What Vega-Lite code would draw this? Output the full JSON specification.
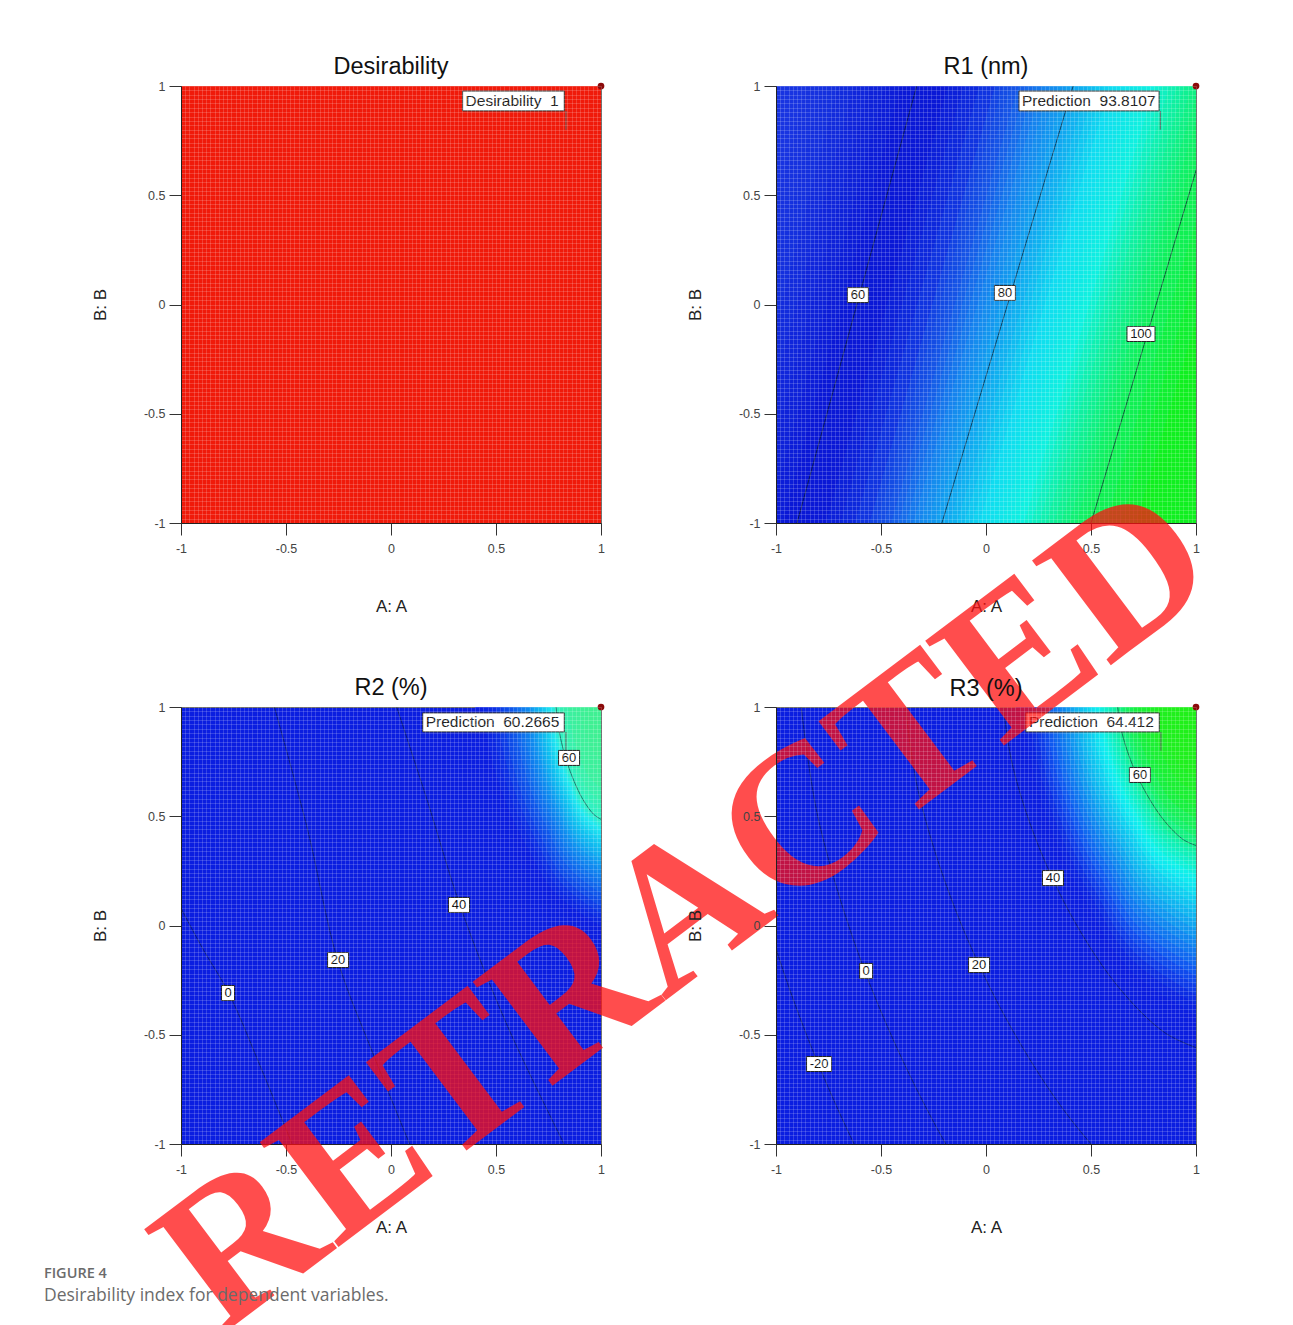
{
"$schema": "https://vega.github.io/schema/vega-lite/v6.json",
"background": "white",
"padding": {"left": 43, "top": 54, "right": 5, "bottom": 5},
"bounds": "flush",
"columns": 2,
"spacing": {"row": 184, "column": 175},
"resolve": {"scale": {"x": "independent", "y": "independent", "color": "independent"}},
"title": {"text": "FIGURE 4", "subtitle": "Desirability index for dependent variables.", "orient": "bottom", "anchor": "start", "frame": "bounds", "offset": -101, "dx": -47, "font": "Open Sans", "fontSize": 14.5, "fontWeight": 600, "color": "#6b6b6b", "subtitleFont": "Open Sans", "subtitleFontSize": 17.5, "subtitleColor": "#6b6b6b", "subtitlePadding": 5},
"config": {
 "font": "Liberation Sans",
 "view": {"stroke": "#555555", "strokeWidth": 1},
 "axis": {"tickCount": 80, "grid": true, "gridColor": "#ffffff", "gridOpacity": 0.17, "gridWidth": 1, "domainColor": "#222222", "tickColor": "#333333", "tickSize": 12, "labelFont": "Liberation Sans", "labelFontSize": 12.5, "labelColor": "#444444", "labelPadding": 5, "labelFlush": false, "labelOverlap": false, "labelBound": false, "titleFont": "Liberation Sans", "titleFontSize": 17, "titleFontWeight": "normal", "titleColor": "#222222"},
 "axisX": {"titlePadding": 44, "labelPadding": 7},
 "axisY": {"titlePadding": 34, "labelPadding": 4},
 "title": {"font": "Liberation Sans", "fontSize": 23.5, "fontWeight": "normal", "color": "#111111", "offset": 2},
 "legend": {"disable": true}
},
"datasets": {
 "d0": [{"a": -1, "a2": 1, "b": -1, "b2": 1, "d": 1}],
 "f1": [{"a": 0.341, "a2": 0.825, "b": 0.977, "b2": 0.886, "t": "Desirability\u00a0 1"}],
 "f2": [{"a": 0.157, "a2": 0.824, "b": 0.977, "b2": 0.886, "t": "Prediction\u00a0 93.8107"}],
 "f3": [{"a": 0.151, "a2": 0.825, "b": 0.973, "b2": 0.886, "t": "Prediction\u00a0 60.2665"}],
 "f4": [{"a": 0.19, "a2": 0.825, "b": 0.973, "b2": 0.886, "t": "Prediction\u00a0 64.412"}],
 "p1": [{"a": 0.833, "b": 0.886, "b2": 0.8}],
 "p2": [{"a": 0.83, "b": 0.886, "b2": 0.8}],
 "p3": [{"a": 0.833, "b": 0.886, "b2": 0.8}],
 "p4": [{"a": 0.833, "b": 0.886, "b2": 0.8}],
 "l1": [{"a": -0.61, "b": 0.043, "t": "60"}, {"a": 0.09, "b": 0.053, "t": "80"}, {"a": 0.738, "b": -0.135, "t": "100"}],
 "l2": [{"a": -0.776, "b": -0.309, "t": "0"}, {"a": -0.252, "b": -0.158, "t": "20"}, {"a": 0.324, "b": 0.094, "t": "40"}, {"a": 0.848, "b": 0.767, "t": "60"}],
 "l3": [{"a": -0.795, "b": -0.634, "t": "-20"}, {"a": -0.571, "b": -0.208, "t": "0"}, {"a": -0.033, "b": -0.181, "t": "20"}, {"a": 0.319, "b": 0.217, "t": "40"}, {"a": 0.733, "b": 0.689, "t": "60"}],
 "r1l": [{"v": 60, "a": -0.9, "b": -1}, {"v": 60, "a": -0.33, "b": 1}, {"v": 80, "a": -0.21, "b": -1}, {"v": 80, "a": 0.415, "b": 1}, {"v": 100, "a": 0.5, "b": -1}, {"v": 100, "a": 1.12, "b": 1}],
 "r2l": [
  {"v": 0, "a": -1.05, "b": 0.17}, {"v": 0, "a": -0.9, "b": -0.1}, {"v": 0, "a": -0.773, "b": -0.309}, {"v": 0, "a": -0.62, "b": -0.65}, {"v": 0, "a": -0.45, "b": -1.05},
  {"v": 20, "a": -0.57, "b": 1.05}, {"v": 20, "a": -0.4, "b": 0.45}, {"v": 20, "a": -0.254, "b": -0.159}, {"v": 20, "a": -0.08, "b": -0.6}, {"v": 20, "a": 0.11, "b": -1.05},
  {"v": 40, "a": 0.01, "b": 1.05}, {"v": 40, "a": 0.18, "b": 0.55}, {"v": 40, "a": 0.33, "b": 0.088}, {"v": 40, "a": 0.55, "b": -0.45}, {"v": 40, "a": 0.85, "b": -1.05},
  {"v": 60, "a": 1, "b": 0.486}, {"v": 60, "a": 0.965, "b": 0.509}, {"v": 60, "a": 0.915, "b": 0.575}, {"v": 60, "a": 0.865, "b": 0.676}, {"v": 60, "a": 0.823, "b": 0.796}, {"v": 60, "a": 0.796, "b": 0.915}, {"v": 60, "a": 0.786, "b": 1}
 ],
 "r3l": [
  {"v": 60, "a": 1, "b": 0.366}, {"v": 60, "a": 0.938, "b": 0.394}, {"v": 60, "a": 0.852, "b": 0.476}, {"v": 60, "a": 0.765, "b": 0.601}, {"v": 60, "a": 0.692, "b": 0.748}, {"v": 60, "a": 0.644, "b": 0.895}, {"v": 60, "a": 0.627, "b": 1},
  {"v": 40, "a": 1, "b": -0.559}, {"v": 40, "a": 0.849, "b": -0.489}, {"v": 40, "a": 0.636, "b": -0.288}, {"v": 40, "a": 0.422, "b": 0.018}, {"v": 40, "a": 0.243, "b": 0.381}, {"v": 40, "a": 0.124, "b": 0.743}, {"v": 40, "a": 0.083, "b": 1},
  {"v": 20, "a": 1, "b": -1.353}, {"v": 20, "a": 0.772, "b": -1.247}, {"v": 20, "a": 0.451, "b": -0.944}, {"v": 20, "a": 0.128, "b": -0.482}, {"v": 20, "a": -0.143, "b": 0.066}, {"v": 20, "a": -0.322, "b": 0.612}, {"v": 20, "a": -0.384, "b": 1},
  {"v": 0, "a": 1, "b": -2.196}, {"v": 0, "a": 0.69, "b": -2.052}, {"v": 0, "a": 0.254, "b": -1.64}, {"v": 0, "a": -0.184, "b": -1.013}, {"v": 0, "a": -0.553, "b": -0.269}, {"v": 0, "a": -0.795, "b": 0.473}, {"v": 0, "a": -0.88, "b": 1},
  {"v": -20, "a": 0.63, "b": -2.634}, {"v": -20, "a": 0.111, "b": -2.145}, {"v": -20, "a": -0.411, "b": -1.399}, {"v": -20, "a": -0.85, "b": -0.512}, {"v": -20, "a": -1.139, "b": 0.372}, {"v": -20, "a": -1.24, "b": 1}
 ],
 "r1f": [
  {"v": 40, "a": -1.59, "b": -1}, {"v": 40, "a": -1.08, "b": 1},
  {"v": 43, "a": -1.487, "b": -1}, {"v": 43, "a": -0.968, "b": 1},
  {"v": 46, "a": -1.383, "b": -1}, {"v": 46, "a": -0.855, "b": 1},
  {"v": 48, "a": -1.314, "b": -1}, {"v": 48, "a": -0.78, "b": 1},
  {"v": 50, "a": -1.245, "b": -1}, {"v": 50, "a": -0.705, "b": 1},
  {"v": 52, "a": -1.176, "b": -1}, {"v": 52, "a": -0.63, "b": 1},
  {"v": 54, "a": -1.107, "b": -1}, {"v": 54, "a": -0.555, "b": 1},
  {"v": 56, "a": -1.038, "b": -1}, {"v": 56, "a": -0.48, "b": 1},
  {"v": 58, "a": -0.969, "b": -1}, {"v": 58, "a": -0.405, "b": 1},
  {"v": 60, "a": -0.9, "b": -1}, {"v": 60, "a": -0.33, "b": 1},
  {"v": 62, "a": -0.831, "b": -1}, {"v": 62, "a": -0.256, "b": 1},
  {"v": 64, "a": -0.762, "b": -1}, {"v": 64, "a": -0.181, "b": 1},
  {"v": 66, "a": -0.693, "b": -1}, {"v": 66, "a": -0.107, "b": 1},
  {"v": 68, "a": -0.624, "b": -1}, {"v": 68, "a": -0.032, "b": 1},
  {"v": 70, "a": -0.555, "b": -1}, {"v": 70, "a": 0.043, "b": 1},
  {"v": 71, "a": -0.521, "b": -1}, {"v": 71, "a": 0.08, "b": 1},
  {"v": 72, "a": -0.486, "b": -1}, {"v": 72, "a": 0.117, "b": 1},
  {"v": 73, "a": -0.452, "b": -1}, {"v": 73, "a": 0.154, "b": 1},
  {"v": 74, "a": -0.417, "b": -1}, {"v": 74, "a": 0.192, "b": 1},
  {"v": 75, "a": -0.383, "b": -1}, {"v": 75, "a": 0.229, "b": 1},
  {"v": 76, "a": -0.348, "b": -1}, {"v": 76, "a": 0.266, "b": 1},
  {"v": 77, "a": -0.314, "b": -1}, {"v": 77, "a": 0.303, "b": 1},
  {"v": 78, "a": -0.279, "b": -1}, {"v": 78, "a": 0.341, "b": 1},
  {"v": 79, "a": -0.245, "b": -1}, {"v": 79, "a": 0.378, "b": 1},
  {"v": 80, "a": -0.21, "b": -1}, {"v": 80, "a": 0.415, "b": 1},
  {"v": 81, "a": -0.175, "b": -1}, {"v": 81, "a": 0.45, "b": 1},
  {"v": 82, "a": -0.139, "b": -1}, {"v": 82, "a": 0.486, "b": 1},
  {"v": 83, "a": -0.104, "b": -1}, {"v": 83, "a": 0.521, "b": 1},
  {"v": 84, "a": -0.068, "b": -1}, {"v": 84, "a": 0.556, "b": 1},
  {"v": 85, "a": -0.033, "b": -1}, {"v": 85, "a": 0.591, "b": 1},
  {"v": 86, "a": 0.003, "b": -1}, {"v": 86, "a": 0.627, "b": 1},
  {"v": 87, "a": 0.039, "b": -1}, {"v": 87, "a": 0.662, "b": 1},
  {"v": 88, "a": 0.074, "b": -1}, {"v": 88, "a": 0.697, "b": 1},
  {"v": 89, "a": 0.11, "b": -1}, {"v": 89, "a": 0.732, "b": 1},
  {"v": 90, "a": 0.145, "b": -1}, {"v": 90, "a": 0.768, "b": 1},
  {"v": 91, "a": 0.181, "b": -1}, {"v": 91, "a": 0.803, "b": 1},
  {"v": 92, "a": 0.216, "b": -1}, {"v": 92, "a": 0.838, "b": 1},
  {"v": 93, "a": 0.252, "b": -1}, {"v": 93, "a": 0.873, "b": 1},
  {"v": 94, "a": 0.287, "b": -1}, {"v": 94, "a": 0.909, "b": 1},
  {"v": 95, "a": 0.323, "b": -1}, {"v": 95, "a": 0.944, "b": 1},
  {"v": 96, "a": 0.358, "b": -1}, {"v": 96, "a": 0.979, "b": 1},
  {"v": 97, "a": 0.394, "b": -1}, {"v": 97, "a": 1.014, "b": 1},
  {"v": 98, "a": 0.429, "b": -1}, {"v": 98, "a": 1.05, "b": 1},
  {"v": 99, "a": 0.465, "b": -1}, {"v": 99, "a": 1.085, "b": 1},
  {"v": 100, "a": 0.5, "b": -1}, {"v": 100, "a": 1.12, "b": 1},
  {"v": 102, "a": 0.571, "b": -1}, {"v": 102, "a": 1.191, "b": 1},
  {"v": 104, "a": 0.642, "b": -1}, {"v": 104, "a": 1.262, "b": 1},
  {"v": 106, "a": 0.713, "b": -1}, {"v": 106, "a": 1.333, "b": 1},
  {"v": 108, "a": 0.784, "b": -1}, {"v": 108, "a": 1.404, "b": 1}
 ],
 "r2f": [
  {"v": 50.0, "a": 1, "b": -0.028}, {"v": 50.0, "a": 0.833, "b": 0.075}, {"v": 50.0, "a": 0.622, "b": 0.352}, {"v": 50.0, "a": 0.46, "b": 0.714}, {"v": 50.0, "a": 0.4, "b": 1},
  {"v": 50.9, "a": 1, "b": -0.003}, {"v": 50.9, "a": 0.843, "b": 0.097}, {"v": 50.9, "a": 0.644, "b": 0.368}, {"v": 50.9, "a": 0.492, "b": 0.721}, {"v": 50.9, "a": 0.435, "b": 1},
  {"v": 51.8, "a": 1, "b": 0.026}, {"v": 51.8, "a": 0.853, "b": 0.123}, {"v": 51.8, "a": 0.666, "b": 0.386}, {"v": 51.8, "a": 0.523, "b": 0.729}, {"v": 51.8, "a": 0.47, "b": 1},
  {"v": 52.6, "a": 1, "b": 0.054}, {"v": 52.6, "a": 0.861, "b": 0.149}, {"v": 52.6, "a": 0.685, "b": 0.404}, {"v": 52.6, "a": 0.55, "b": 0.737}, {"v": 52.6, "a": 0.5, "b": 1},
  {"v": 53.4, "a": 1, "b": 0.086}, {"v": 53.4, "a": 0.869, "b": 0.177}, {"v": 53.4, "a": 0.704, "b": 0.424}, {"v": 53.4, "a": 0.577, "b": 0.746}, {"v": 53.4, "a": 0.53, "b": 1},
  {"v": 54.0, "a": 1, "b": 0.115}, {"v": 54.0, "a": 0.876, "b": 0.203}, {"v": 54.0, "a": 0.72, "b": 0.442}, {"v": 54.0, "a": 0.6, "b": 0.754}, {"v": 54.0, "a": 0.555, "b": 1},
  {"v": 54.7, "a": 1, "b": 0.146}, {"v": 54.7, "a": 0.883, "b": 0.231}, {"v": 54.7, "a": 0.735, "b": 0.462}, {"v": 54.7, "a": 0.622, "b": 0.763}, {"v": 54.7, "a": 0.58, "b": 1},
  {"v": 55.2, "a": 1, "b": 0.172}, {"v": 55.2, "a": 0.889, "b": 0.255}, {"v": 55.2, "a": 0.748, "b": 0.478}, {"v": 55.2, "a": 0.64, "b": 0.77}, {"v": 55.2, "a": 0.6, "b": 1},
  {"v": 55.7, "a": 1, "b": 0.2}, {"v": 55.7, "a": 0.894, "b": 0.28}, {"v": 55.7, "a": 0.761, "b": 0.496}, {"v": 55.7, "a": 0.658, "b": 0.778}, {"v": 55.7, "a": 0.62, "b": 1},
  {"v": 56.15, "a": 1, "b": 0.226}, {"v": 56.15, "a": 0.899, "b": 0.303}, {"v": 56.15, "a": 0.772, "b": 0.512}, {"v": 56.15, "a": 0.674, "b": 0.785}, {"v": 56.15, "a": 0.6375, "b": 1},
  {"v": 56.6, "a": 1, "b": 0.252}, {"v": 56.6, "a": 0.904, "b": 0.327}, {"v": 56.6, "a": 0.783, "b": 0.529}, {"v": 56.6, "a": 0.689, "b": 0.792}, {"v": 56.6, "a": 0.655, "b": 1},
  {"v": 57.0, "a": 1, "b": 0.276}, {"v": 57.0, "a": 0.908, "b": 0.348}, {"v": 57.0, "a": 0.792, "b": 0.544}, {"v": 57.0, "a": 0.703, "b": 0.799}, {"v": 57.0, "a": 0.67, "b": 1},
  {"v": 57.4, "a": 1, "b": 0.301}, {"v": 57.4, "a": 0.912, "b": 0.371}, {"v": 57.4, "a": 0.802, "b": 0.56}, {"v": 57.4, "a": 0.716, "b": 0.806}, {"v": 57.4, "a": 0.685, "b": 1},
  {"v": 57.7, "a": 1, "b": 0.322}, {"v": 57.7, "a": 0.916, "b": 0.39}, {"v": 57.7, "a": 0.809, "b": 0.573}, {"v": 57.7, "a": 0.728, "b": 0.812}, {"v": 57.7, "a": 0.6975, "b": 1},
  {"v": 58.0, "a": 1, "b": 0.343}, {"v": 58.0, "a": 0.919, "b": 0.409}, {"v": 58.0, "a": 0.817, "b": 0.586}, {"v": 58.0, "a": 0.739, "b": 0.817}, {"v": 58.0, "a": 0.71, "b": 1},
  {"v": 58.36, "a": 1, "b": 0.365}, {"v": 58.36, "a": 0.923, "b": 0.4285}, {"v": 58.36, "a": 0.825, "b": 0.6}, {"v": 58.36, "a": 0.75, "b": 0.823}, {"v": 58.36, "a": 0.7225, "b": 1},
  {"v": 58.7, "a": 1, "b": 0.388}, {"v": 58.7, "a": 0.926, "b": 0.449}, {"v": 58.7, "a": 0.833, "b": 0.614}, {"v": 58.7, "a": 0.761, "b": 0.83}, {"v": 58.7, "a": 0.735, "b": 1},
  {"v": 58.94, "a": 1, "b": 0.407}, {"v": 58.94, "a": 0.929, "b": 0.466}, {"v": 58.94, "a": 0.839, "b": 0.626}, {"v": 58.94, "a": 0.77, "b": 0.835}, {"v": 58.94, "a": 0.745, "b": 1},
  {"v": 59.2, "a": 1, "b": 0.425}, {"v": 59.2, "a": 0.932, "b": 0.482}, {"v": 59.2, "a": 0.846, "b": 0.638}, {"v": 59.2, "a": 0.779, "b": 0.84}, {"v": 59.2, "a": 0.755, "b": 1},
  {"v": 59.43, "a": 1, "b": 0.443}, {"v": 59.43, "a": 0.934, "b": 0.499}, {"v": 59.43, "a": 0.851, "b": 0.649}, {"v": 59.43, "a": 0.788, "b": 0.845}, {"v": 59.43, "a": 0.764, "b": 1},
  {"v": 59.7, "a": 1, "b": 0.46}, {"v": 59.7, "a": 0.937, "b": 0.514}, {"v": 59.7, "a": 0.857, "b": 0.66}, {"v": 59.7, "a": 0.796, "b": 0.85}, {"v": 59.7, "a": 0.773, "b": 1},
  {"v": 59.83, "a": 1, "b": 0.473}, {"v": 59.83, "a": 0.939, "b": 0.526}, {"v": 59.83, "a": 0.861, "b": 0.668}, {"v": 59.83, "a": 0.802, "b": 0.853}, {"v": 59.83, "a": 0.7795, "b": 1},
  {"v": 60.0, "a": 1, "b": 0.486}, {"v": 60.0, "a": 0.941, "b": 0.537}, {"v": 60.0, "a": 0.865, "b": 0.676}, {"v": 60.0, "a": 0.807, "b": 0.857}, {"v": 60.0, "a": 0.786, "b": 1},
  {"v": 60.04, "a": 1, "b": 0.527}, {"v": 60.04, "a": 0.945, "b": 0.574}, {"v": 60.04, "a": 0.876, "b": 0.702}, {"v": 60.04, "a": 0.823, "b": 0.869}, {"v": 60.04, "a": 0.803, "b": 1},
  {"v": 60.08, "a": 1, "b": 0.568}, {"v": 60.08, "a": 0.95, "b": 0.611}, {"v": 60.08, "a": 0.887, "b": 0.728}, {"v": 60.08, "a": 0.838, "b": 0.88}, {"v": 60.08, "a": 0.82, "b": 1},
  {"v": 60.13, "a": 1, "b": 0.628}, {"v": 60.13, "a": 0.957, "b": 0.665}, {"v": 60.13, "a": 0.902, "b": 0.766}, {"v": 60.13, "a": 0.86, "b": 0.897}, {"v": 60.13, "a": 0.845, "b": 1},
  {"v": 60.17, "a": 1, "b": 0.688}, {"v": 60.17, "a": 0.964, "b": 0.719}, {"v": 60.17, "a": 0.918, "b": 0.803}, {"v": 60.17, "a": 0.883, "b": 0.913}, {"v": 60.17, "a": 0.87, "b": 1},
  {"v": 60.21, "a": 1, "b": 0.76}, {"v": 60.21, "a": 0.972, "b": 0.784}, {"v": 60.21, "a": 0.937, "b": 0.849}, {"v": 60.21, "a": 0.91, "b": 0.933}, {"v": 60.21, "a": 0.9, "b": 1},
  {"v": 60.24, "a": 1, "b": 0.832}, {"v": 60.24, "a": 0.981, "b": 0.849}, {"v": 60.24, "a": 0.956, "b": 0.894}, {"v": 60.24, "a": 0.937, "b": 0.953}, {"v": 60.24, "a": 0.93, "b": 1}
 ],
 "r3f": [
  {"v": 42.1, "a": 1, "b": -0.462}, {"v": 42.1, "a": 0.761, "b": -0.316}, {"v": 42.1, "a": 0.458, "b": 0.079}, {"v": 42.1, "a": 0.226, "b": 0.594}, {"v": 42.1, "a": 0.14, "b": 1},
  {"v": 43.2, "a": 1, "b": -0.411}, {"v": 43.2, "a": 0.769, "b": -0.27}, {"v": 43.2, "a": 0.477, "b": 0.111}, {"v": 43.2, "a": 0.253, "b": 0.608}, {"v": 43.2, "a": 0.17, "b": 1},
  {"v": 44.3, "a": 1, "b": -0.36}, {"v": 44.3, "a": 0.778, "b": -0.224}, {"v": 44.3, "a": 0.496, "b": 0.143}, {"v": 44.3, "a": 0.28, "b": 0.622}, {"v": 44.3, "a": 0.2, "b": 1},
  {"v": 45.2, "a": 1, "b": -0.3175}, {"v": 45.2, "a": 0.785, "b": -0.186}, {"v": 45.2, "a": 0.512, "b": 0.17}, {"v": 45.2, "a": 0.3025, "b": 0.634}, {"v": 45.2, "a": 0.225, "b": 1},
  {"v": 46.1, "a": 1, "b": -0.275}, {"v": 46.1, "a": 0.792, "b": -0.148}, {"v": 46.1, "a": 0.528, "b": 0.197}, {"v": 46.1, "a": 0.325, "b": 0.646}, {"v": 46.1, "a": 0.25, "b": 1},
  {"v": 47.05, "a": 1, "b": -0.2325}, {"v": 47.05, "a": 0.7985, "b": -0.109}, {"v": 47.05, "a": 0.543, "b": 0.224}, {"v": 47.05, "a": 0.3475, "b": 0.657}, {"v": 47.05, "a": 0.275, "b": 1},
  {"v": 48.0, "a": 1, "b": -0.19}, {"v": 48.0, "a": 0.805, "b": -0.071}, {"v": 48.0, "a": 0.559, "b": 0.25}, {"v": 48.0, "a": 0.37, "b": 0.669}, {"v": 48.0, "a": 0.3, "b": 1},
  {"v": 48.9, "a": 1, "b": -0.1475}, {"v": 48.9, "a": 0.812, "b": -0.033}, {"v": 48.9, "a": 0.575, "b": 0.277}, {"v": 48.9, "a": 0.3925, "b": 0.681}, {"v": 48.9, "a": 0.325, "b": 1},
  {"v": 49.8, "a": 1, "b": -0.105}, {"v": 49.8, "a": 0.819, "b": 0.006}, {"v": 49.8, "a": 0.59, "b": 0.304}, {"v": 49.8, "a": 0.415, "b": 0.693}, {"v": 49.8, "a": 0.35, "b": 1},
  {"v": 50.7, "a": 1, "b": -0.0625}, {"v": 50.7, "a": 0.826, "b": 0.044}, {"v": 50.7, "a": 0.606, "b": 0.331}, {"v": 50.7, "a": 0.4375, "b": 0.705}, {"v": 50.7, "a": 0.375, "b": 1},
  {"v": 51.6, "a": 1, "b": -0.02}, {"v": 51.6, "a": 0.833, "b": 0.082}, {"v": 51.6, "a": 0.622, "b": 0.357}, {"v": 51.6, "a": 0.46, "b": 0.716}, {"v": 51.6, "a": 0.4, "b": 1},
  {"v": 52.5, "a": 1, "b": 0.018}, {"v": 52.5, "a": 0.8395, "b": 0.116}, {"v": 52.5, "a": 0.636, "b": 0.381}, {"v": 52.5, "a": 0.48, "b": 0.727}, {"v": 52.5, "a": 0.4225, "b": 1},
  {"v": 53.3, "a": 1, "b": 0.057}, {"v": 53.3, "a": 0.846, "b": 0.151}, {"v": 53.3, "a": 0.65, "b": 0.406}, {"v": 53.3, "a": 0.5, "b": 0.738}, {"v": 53.3, "a": 0.445, "b": 1},
  {"v": 54.1, "a": 1, "b": 0.095}, {"v": 54.1, "a": 0.852, "b": 0.1855}, {"v": 54.1, "a": 0.6645, "b": 0.43}, {"v": 54.1, "a": 0.521, "b": 0.748}, {"v": 54.1, "a": 0.4675, "b": 1},
  {"v": 55.0, "a": 1, "b": 0.133}, {"v": 55.0, "a": 0.858, "b": 0.22}, {"v": 55.0, "a": 0.679, "b": 0.454}, {"v": 55.0, "a": 0.541, "b": 0.759}, {"v": 55.0, "a": 0.49, "b": 1},
  {"v": 55.7, "a": 1, "b": 0.167}, {"v": 55.7, "a": 0.864, "b": 0.25}, {"v": 55.7, "a": 0.691, "b": 0.475}, {"v": 55.7, "a": 0.559, "b": 0.768}, {"v": 55.7, "a": 0.51, "b": 1},
  {"v": 56.4, "a": 1, "b": 0.201}, {"v": 56.4, "a": 0.869, "b": 0.281}, {"v": 56.4, "a": 0.704, "b": 0.497}, {"v": 56.4, "a": 0.577, "b": 0.778}, {"v": 56.4, "a": 0.53, "b": 1},
  {"v": 57.07, "a": 1, "b": 0.231}, {"v": 57.07, "a": 0.874, "b": 0.308}, {"v": 57.07, "a": 0.715, "b": 0.5155}, {"v": 57.07, "a": 0.593, "b": 0.786}, {"v": 57.07, "a": 0.5475, "b": 1},
  {"v": 57.7, "a": 1, "b": 0.26}, {"v": 57.7, "a": 0.879, "b": 0.334}, {"v": 57.7, "a": 0.726, "b": 0.534}, {"v": 57.7, "a": 0.609, "b": 0.794}, {"v": 57.7, "a": 0.565, "b": 1},
  {"v": 58.36, "a": 1, "b": 0.29}, {"v": 58.36, "a": 0.884, "b": 0.361}, {"v": 58.36, "a": 0.737, "b": 0.553}, {"v": 58.36, "a": 0.624, "b": 0.803}, {"v": 58.36, "a": 0.5825, "b": 1},
  {"v": 59.0, "a": 1, "b": 0.32}, {"v": 59.0, "a": 0.889, "b": 0.388}, {"v": 59.0, "a": 0.748, "b": 0.572}, {"v": 59.0, "a": 0.64, "b": 0.811}, {"v": 59.0, "a": 0.6, "b": 1},
  {"v": 59.5, "a": 1, "b": 0.343}, {"v": 59.5, "a": 0.8925, "b": 0.409}, {"v": 59.5, "a": 0.7565, "b": 0.586}, {"v": 59.5, "a": 0.652, "b": 0.817}, {"v": 59.5, "a": 0.6135, "b": 1},
  {"v": 60.0, "a": 1, "b": 0.366}, {"v": 60.0, "a": 0.896, "b": 0.429}, {"v": 60.0, "a": 0.765, "b": 0.601}, {"v": 60.0, "a": 0.664, "b": 0.824}, {"v": 60.0, "a": 0.627, "b": 1},
  {"v": 60.53, "a": 1, "b": 0.405}, {"v": 60.53, "a": 0.903, "b": 0.4645}, {"v": 60.53, "a": 0.7795, "b": 0.625}, {"v": 60.53, "a": 0.685, "b": 0.835}, {"v": 60.53, "a": 0.65, "b": 1},
  {"v": 60.96, "a": 1, "b": 0.439}, {"v": 60.96, "a": 0.908, "b": 0.495}, {"v": 60.96, "a": 0.792, "b": 0.647}, {"v": 60.96, "a": 0.703, "b": 0.844}, {"v": 60.96, "a": 0.67, "b": 1},
  {"v": 61.56, "a": 1, "b": 0.49}, {"v": 61.56, "a": 0.917, "b": 0.541}, {"v": 61.56, "a": 0.811, "b": 0.679}, {"v": 61.56, "a": 0.73, "b": 0.858}, {"v": 61.56, "a": 0.7, "b": 1},
  {"v": 62.1, "a": 1, "b": 0.541}, {"v": 62.1, "a": 0.925, "b": 0.587}, {"v": 62.1, "a": 0.83, "b": 0.711}, {"v": 62.1, "a": 0.757, "b": 0.872}, {"v": 62.1, "a": 0.73, "b": 1},
  {"v": 62.73, "a": 1, "b": 0.609}, {"v": 62.73, "a": 0.936, "b": 0.648}, {"v": 62.73, "a": 0.855, "b": 0.754}, {"v": 62.73, "a": 0.793, "b": 0.891}, {"v": 62.73, "a": 0.77, "b": 1},
  {"v": 63.27, "a": 1, "b": 0.677}, {"v": 63.27, "a": 0.947, "b": 0.709}, {"v": 63.27, "a": 0.88, "b": 0.797}, {"v": 63.27, "a": 0.829, "b": 0.91}, {"v": 63.27, "a": 0.81, "b": 1},
  {"v": 63.74, "a": 1, "b": 0.7535}, {"v": 63.74, "a": 0.96, "b": 0.778}, {"v": 63.74, "a": 0.909, "b": 0.845}, {"v": 63.74, "a": 0.8695, "b": 0.9315}, {"v": 63.74, "a": 0.855, "b": 1},
  {"v": 64.09, "a": 1, "b": 0.83}, {"v": 64.09, "a": 0.972, "b": 0.847}, {"v": 64.09, "a": 0.937, "b": 0.893}, {"v": 64.09, "a": 0.91, "b": 0.953}, {"v": 64.09, "a": 0.9, "b": 1}
 ],
 "wm": [{"a": -1.43, "b": 0.07, "t": "RETRACTED"}]
},
"concat": [
 {
  "title": "Desirability",
  "width": 420, "height": 437,
  "view": {"fill": "#f01a0a"},
  "encoding": {
   "x": {"field": "a", "type": "quantitative", "stack": null, "scale": {"domain": [-1, 1], "nice": false, "zero": false}, "axis": {"title": "A: A", "zindex": 1, "labelExpr": "abs(datum.value*2-round(datum.value*2))<0.001 ? toString(datum.value) : ''", "tickOpacity": {"condition": {"test": "abs(datum.value*2-round(datum.value*2))<0.001", "value": 1}, "value": 0}}},
   "y": {"field": "b", "type": "quantitative", "stack": null, "scale": {"domain": [-1, 1], "nice": false, "zero": false}, "axis": {"title": "B: B", "zindex": 1, "labelExpr": "abs(datum.value*2-round(datum.value*2))<0.001 ? toString(datum.value) : ''", "tickOpacity": {"condition": {"test": "abs(datum.value*2-round(datum.value*2))<0.001", "value": 1}, "value": 0}}}
  },
  "layer": [
   {"data": {"name": "d0"}, "mark": {"type": "rect"}, "encoding": {"x2": {"field": "a2"}, "y2": {"field": "b2"}, "color": {"field": "d", "type": "quantitative", "scale": {"domain": [0, 1], "range": ["#0b1ee0", "#f01a0a"]}, "legend": null}}},
   {"data": {"name": "f1"}, "mark": {"type": "rect", "fill": "#ffffff", "stroke": "#333333", "strokeWidth": 1, "zindex": 2}, "encoding": {"x2": {"field": "a2"}, "y2": {"field": "b2"}}},
   {"data": {"name": "f1"}, "mark": {"type": "text", "align": "left", "baseline": "top", "dx": 3, "dy": 2.5, "fontSize": 15.5, "color": "#222222", "zindex": 2}, "encoding": {"text": {"field": "t", "type": "nominal"}}},
   {"data": {"name": "p1"}, "mark": {"type": "rule", "color": "#666666", "strokeWidth": 1, "zindex": 2}, "encoding": {"y2": {"field": "b2"}}},
   {"data": {"name": "p1"}, "mark": {"type": "point", "filled": true, "color": "#8b0a0a", "size": 45, "opacity": 1, "zindex": 3}, "encoding": {"x": {"datum": 1}, "y": {"datum": 1}}}
  ]
 },
 {
  "title": "R1 (nm)",
  "width": 420, "height": 437,
  "view": {"fill": "#0b1ee0"},
  "encoding": {
   "x": {"field": "a", "type": "quantitative", "stack": null, "scale": {"domain": [-1, 1], "nice": false, "zero": false}, "axis": {"title": "A: A", "zindex": 1, "labelExpr": "abs(datum.value*2-round(datum.value*2))<0.001 ? toString(datum.value) : ''", "tickOpacity": {"condition": {"test": "abs(datum.value*2-round(datum.value*2))<0.001", "value": 1}, "value": 0}}},
   "y": {"field": "b", "type": "quantitative", "stack": null, "scale": {"domain": [-1, 1], "nice": false, "zero": false}, "axis": {"title": "B: B", "zindex": 1, "labelExpr": "abs(datum.value*2-round(datum.value*2))<0.001 ? toString(datum.value) : ''", "tickOpacity": {"condition": {"test": "abs(datum.value*2-round(datum.value*2))<0.001", "value": 1}, "value": 0}}}
  },
  "layer": [
   {"data": {"name": "r1f"}, "mark": {"type": "area", "orient": "horizontal", "interpolate": "linear", "clip": true}, "encoding": {"x2": {"datum": 1.5}, "color": {"field": "v", "type": "quantitative", "scale": {"domain": [40, 48, 58, 62, 67, 72, 76, 80.5, 85, 90, 94, 98.5, 106], "range": ["#1a36e2", "#1430de", "#0a18d6", "#0a18d6", "#0e2cde", "#1654e6", "#1684ee", "#10acf0", "#10dcf0", "#10f0e0", "#10f0a0", "#10f060", "#10f020"], "clamp": true, "interpolate": "rgb"}, "legend": null}}},
   {"data": {"name": "r1l"}, "mark": {"type": "line", "clip": true, "color": "#0a1a2a", "strokeWidth": 1, "opacity": 0.7}, "encoding": {"detail": {"field": "v", "type": "nominal"}, "order": {"value": null}}},
   {"data": {"name": "f2"}, "mark": {"type": "rect", "fill": "#ffffff", "stroke": "#333333", "strokeWidth": 1, "zindex": 2}, "encoding": {"x2": {"field": "a2"}, "y2": {"field": "b2"}}},
   {"data": {"name": "f2"}, "mark": {"type": "text", "align": "left", "baseline": "top", "dx": 3, "dy": 2.5, "fontSize": 15.5, "color": "#222222", "zindex": 2}, "encoding": {"text": {"field": "t", "type": "nominal"}}},
   {"data": {"name": "p2"}, "mark": {"type": "rule", "color": "#666666", "strokeWidth": 1, "zindex": 2}, "encoding": {"y2": {"field": "b2"}}},
   {"data": {"name": "l1"}, "transform": [{"filter": "length(datum.t)==2"}], "mark": {"type": "rect", "width": 21, "height": 15, "fill": "#ffffff", "stroke": "#222222", "strokeWidth": 1, "zindex": 2}},
   {"data": {"name": "l1"}, "transform": [{"filter": "length(datum.t)==3"}], "mark": {"type": "rect", "width": 28, "height": 15, "fill": "#ffffff", "stroke": "#222222", "strokeWidth": 1, "zindex": 2}},
   {"data": {"name": "l1"}, "mark": {"type": "text", "fontSize": 13, "color": "#111111", "zindex": 2}, "encoding": {"text": {"field": "t", "type": "nominal"}}},
   {"data": {"name": "p2"}, "mark": {"type": "point", "filled": true, "color": "#8b0a0a", "size": 45, "opacity": 1, "zindex": 3}, "encoding": {"x": {"datum": 1}, "y": {"datum": 1}}}
  ]
 },
 {
  "title": "R2 (%)",
  "width": 420, "height": 437,
  "view": {"fill": "#0b1ee0"},
  "encoding": {
   "x": {"field": "a", "type": "quantitative", "stack": null, "scale": {"domain": [-1, 1], "nice": false, "zero": false}, "axis": {"title": "A: A", "zindex": 1, "labelExpr": "abs(datum.value*2-round(datum.value*2))<0.001 ? toString(datum.value) : ''", "tickOpacity": {"condition": {"test": "abs(datum.value*2-round(datum.value*2))<0.001", "value": 1}, "value": 0}}},
   "y": {"field": "b", "type": "quantitative", "stack": null, "scale": {"domain": [-1, 1], "nice": false, "zero": false}, "axis": {"title": "B: B", "zindex": 1, "labelExpr": "abs(datum.value*2-round(datum.value*2))<0.001 ? toString(datum.value) : ''", "tickOpacity": {"condition": {"test": "abs(datum.value*2-round(datum.value*2))<0.001", "value": 1}, "value": 0}}}
  },
  "layer": [
   {"data": {"name": "r2f"}, "mark": {"type": "area", "orient": "horizontal", "interpolate": "monotone", "clip": true}, "encoding": {"x2": {"datum": 1.5}, "color": {"field": "v", "type": "quantitative", "scale": {"domain": [50, 52, 54.5, 56.5, 58, 59.2, 60, 60.12, 60.27], "range": ["#0b1ee0", "#0c30e4", "#1060ec", "#1090f0", "#10c0f0", "#20e6f0", "#30f0c0", "#3cf0a0", "#40f090"], "clamp": true, "interpolate": "rgb"}, "legend": null}}},
   {"data": {"name": "r2l"}, "mark": {"type": "line", "clip": true, "color": "#0a1a2a", "strokeWidth": 1, "opacity": 0.55, "interpolate": "catmull-rom"}, "encoding": {"detail": {"field": "v", "type": "nominal"}, "order": {"value": null}}},
   {"data": {"name": "f3"}, "mark": {"type": "rect", "fill": "#ffffff", "stroke": "#333333", "strokeWidth": 1, "zindex": 2}, "encoding": {"x2": {"field": "a2"}, "y2": {"field": "b2"}}},
   {"data": {"name": "f3"}, "mark": {"type": "text", "align": "left", "baseline": "top", "dx": 3, "dy": 2.5, "fontSize": 15.5, "color": "#222222", "zindex": 2}, "encoding": {"text": {"field": "t", "type": "nominal"}}},
   {"data": {"name": "p3"}, "mark": {"type": "rule", "color": "#666666", "strokeWidth": 1, "zindex": 2}, "encoding": {"y2": {"field": "b2"}}},
   {"data": {"name": "l2"}, "transform": [{"filter": "length(datum.t)==1"}], "mark": {"type": "rect", "width": 13, "height": 15, "fill": "#ffffff", "stroke": "#222222", "strokeWidth": 1, "zindex": 2}},
   {"data": {"name": "l2"}, "transform": [{"filter": "length(datum.t)==2"}], "mark": {"type": "rect", "width": 21, "height": 15, "fill": "#ffffff", "stroke": "#222222", "strokeWidth": 1, "zindex": 2}},
   {"data": {"name": "l2"}, "mark": {"type": "text", "fontSize": 13, "color": "#111111", "zindex": 2}, "encoding": {"text": {"field": "t", "type": "nominal"}}},
   {"data": {"name": "p3"}, "mark": {"type": "point", "filled": true, "color": "#8b0a0a", "size": 45, "opacity": 1, "zindex": 3}, "encoding": {"x": {"datum": 1}, "y": {"datum": 1}}}
  ]
 },
 {
  "title": {"text": "R3 (%)", "dy": 250},
  "width": 420, "height": 437,
  "view": {"fill": "#0b1ee0"},
  "encoding": {
   "x": {"field": "a", "type": "quantitative", "stack": null, "scale": {"domain": [-1, 1], "nice": false, "zero": false}, "axis": {"title": "A: A", "zindex": 1, "labelExpr": "abs(datum.value*2-round(datum.value*2))<0.001 ? toString(datum.value) : ''", "tickOpacity": {"condition": {"test": "abs(datum.value*2-round(datum.value*2))<0.001", "value": 1}, "value": 0}}},
   "y": {"field": "b", "type": "quantitative", "stack": null, "scale": {"domain": [-1, 1], "nice": false, "zero": false}, "axis": {"title": "B: B", "zindex": 1, "labelExpr": "abs(datum.value*2-round(datum.value*2))<0.001 ? toString(datum.value) : ''", "tickOpacity": {"condition": {"test": "abs(datum.value*2-round(datum.value*2))<0.001", "value": 1}, "value": 0}}}
  },
  "layer": [
   {"data": {"name": "r3f"}, "mark": {"type": "area", "orient": "horizontal", "interpolate": "monotone", "clip": true}, "encoding": {"x2": {"datum": 1.5}, "color": {"field": "v", "type": "quantitative", "scale": {"domain": [42.5, 44, 46.9, 51.6, 56.1, 59, 60, 61.5, 63.1, 64.41], "range": ["#0b1ee0", "#0c28e2", "#1056f0", "#10a6f0", "#10f0f0", "#10f0a8", "#14f080", "#18f040", "#20f020", "#20f018"], "clamp": true, "interpolate": "rgb"}, "legend": null}}},
   {"data": {"name": "r3l"}, "mark": {"type": "line", "clip": true, "color": "#0a1a2a", "strokeWidth": 1, "opacity": 0.55, "interpolate": "catmull-rom"}, "encoding": {"detail": {"field": "v", "type": "nominal"}, "order": {"value": null}}},
   {"data": {"name": "f4"}, "mark": {"type": "rect", "fill": "#ffffff", "stroke": "#333333", "strokeWidth": 1, "zindex": 2}, "encoding": {"x2": {"field": "a2"}, "y2": {"field": "b2"}}},
   {"data": {"name": "f4"}, "mark": {"type": "text", "align": "left", "baseline": "top", "dx": 3, "dy": 2.5, "fontSize": 15.5, "color": "#222222", "zindex": 2}, "encoding": {"text": {"field": "t", "type": "nominal"}}},
   {"data": {"name": "p4"}, "mark": {"type": "rule", "color": "#666666", "strokeWidth": 1, "zindex": 2}, "encoding": {"y2": {"field": "b2"}}},
   {"data": {"name": "l3"}, "transform": [{"filter": "length(datum.t)==1"}], "mark": {"type": "rect", "width": 13, "height": 15, "fill": "#ffffff", "stroke": "#222222", "strokeWidth": 1, "zindex": 2}},
   {"data": {"name": "l3"}, "transform": [{"filter": "length(datum.t)==2"}], "mark": {"type": "rect", "width": 21, "height": 15, "fill": "#ffffff", "stroke": "#222222", "strokeWidth": 1, "zindex": 2}},
   {"data": {"name": "l3"}, "transform": [{"filter": "length(datum.t)==3"}], "mark": {"type": "rect", "width": 25, "height": 15, "fill": "#ffffff", "stroke": "#222222", "strokeWidth": 1, "zindex": 2}},
   {"data": {"name": "l3"}, "mark": {"type": "text", "fontSize": 13, "color": "#111111", "zindex": 2}, "encoding": {"text": {"field": "t", "type": "nominal"}}},
   {"data": {"name": "p4"}, "mark": {"type": "point", "filled": true, "color": "#8b0a0a", "size": 45, "opacity": 1, "zindex": 3}, "encoding": {"x": {"datum": 1}, "y": {"datum": 1}}},
   {"data": {"name": "wm"}, "mark": {"type": "text", "font": "Liberation Serif", "fontWeight": "bold", "fontSize": 200, "angle": 323, "color": "#ff1010", "opacity": 0.74, "align": "center", "baseline": "middle", "zindex": 4}, "encoding": {"text": {"field": "t", "type": "nominal"}}}
  ]
 }
]
}
